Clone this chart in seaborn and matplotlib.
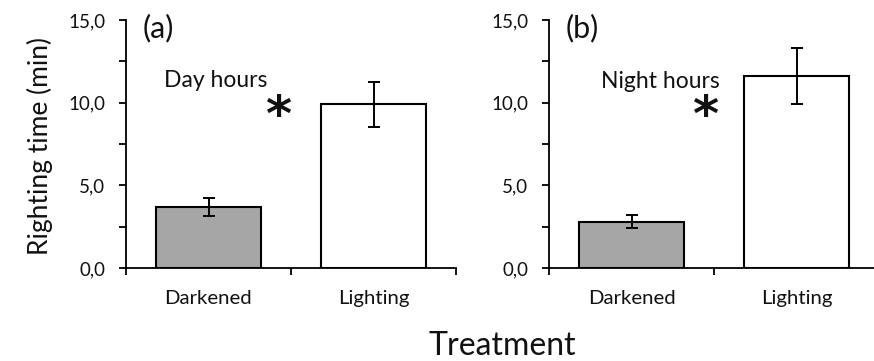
import matplotlib
matplotlib.use("Agg")
import matplotlib.pyplot as plt
import seaborn as sns
import pandas as pd
from matplotlib.ticker import MultipleLocator, FixedLocator, FuncFormatter

sns.set_style("white")
plt.rcParams["font.family"] = ["Lato", "DejaVu Sans"]
plt.rcParams["text.color"] = "#111111"
plt.rcParams["xtick.color"] = "black"
plt.rcParams["ytick.color"] = "black"
plt.rcParams["xtick.labelcolor"] = "#111111"
plt.rcParams["ytick.labelcolor"] = "#111111"

treatments = ["Darkened", "Lighting"]
day_means = [3.67, 9.9]
day_err = [0.55, 1.35]
night_means = [2.8, 11.6]
night_err = [0.38, 1.7]
panel_tags = ["(a)", "(b)"]
period_labels = ["Day hours", "Night hours"]
bar_colors = ["#a6a6a6", "#ffffff"]

W, H = 874, 361
fig = plt.figure(figsize=(W / 100, H / 100), dpi=100)

def px_axes(left, right, top, bottom):
    return fig.add_axes([left / W, 1 - bottom / H, (right - left) / W, (bottom - top) / H])

ax_a = px_axes(126, 456, 20, 268)
ax_b = px_axes(549, 879, 20, 268)

panels = [
    (ax_a, day_means, day_err, panel_tags[0], period_labels[0], (164, 87), (278, 108)),
    (ax_b, night_means, night_err, panel_tags[1], period_labels[1], (601, 88), (705, 108)),
]

for ax, means, errs, tag, period, lab_xy, star_xy in panels:
    df = pd.DataFrame({"Treatment": treatments, "Time": means})
    sns.barplot(data=df, x="Treatment", y="Time", hue="Treatment",
                palette=bar_colors, width=0.64, errorbar=None,
                edgecolor="black", linewidth=1.5, legend=False, ax=ax)
    ax.errorbar(range(len(treatments)), means, yerr=errs, fmt="none",
                ecolor="black", elinewidth=1.4, capsize=4.5, capthick=1.4)
    ax.set_xlim(-0.5, 1.5)
    ax.set_ylim(0, 15)
    ax.yaxis.set_major_locator(MultipleLocator(5))
    ax.yaxis.set_minor_locator(MultipleLocator(2.5))
    ax.yaxis.set_major_formatter(FuncFormatter(lambda v, p: f"{v:.1f}".replace(".", ",")))
    ax.xaxis.set_minor_locator(FixedLocator([-0.5, 0.5, 1.5]))
    ax.tick_params(axis="y", which="both", direction="out", length=5, width=1.3,
                   labelsize=13.5, pad=10, left=True)
    ax.tick_params(axis="x", which="major", length=0, labelsize=14.7, pad=16)
    ax.tick_params(axis="x", which="minor", direction="out", length=5, width=1.3,
                   bottom=True)
    for s in ["top", "right"]:
        ax.spines[s].set_visible(False)
    for s in ["left", "bottom"]:
        ax.spines[s].set_color("black")
        ax.spines[s].set_linewidth(1.3)
    ax.set_xlabel("")
    ax.set_ylabel("")
    ax.text(0.05, 1 - 8 / 248, tag, transform=ax.transAxes, fontsize=22,
            va="center", ha="left")
    fig.text(lab_xy[0] / W, 1 - lab_xy[1] / H, period, fontsize=16.5,
             va="baseline", ha="left")
    fig.text(star_xy[0] / W, 1 - (star_xy[1] + 9) / H, "*", fontsize=36,
             fontweight="bold", family="DejaVu Sans", va="center", ha="center")

fig.text(40 / W, 1 - 146 / H, "Righting time (min)", rotation=90, fontsize=19,
         va="center", ha="center")
fig.text(502 / W, 1 - 355 / H, "Treatment", fontsize=23, va="baseline", ha="center")

fig.savefig("out.png", dpi=100)
